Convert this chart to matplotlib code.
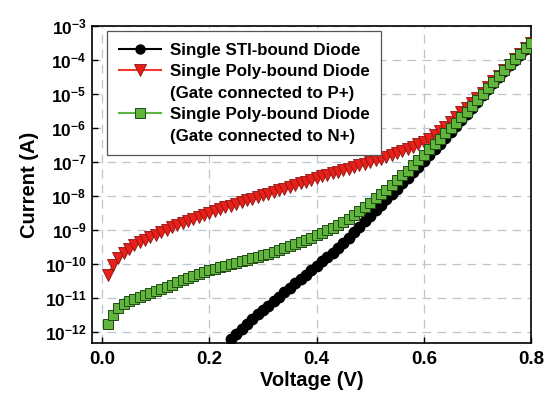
import numpy as np
import matplotlib
matplotlib.use("Agg")
import matplotlib.pyplot as plt
from matplotlib.lines import Line2D
from matplotlib.ticker import FixedLocator, FuncFormatter

plt.rcParams["font.family"] = ["Liberation Sans", "DejaVu Sans"]
plt.rcParams["font.weight"] = "bold"
plt.rcParams["mathtext.fontset"] = "custom"
plt.rcParams["mathtext.rm"] = "Liberation Sans:bold"
plt.rcParams["mathtext.bf"] = "Liberation Sans:bold"
plt.rcParams["mathtext.default"] = "bf"

# voltage sweep (V)
v_full = np.round(np.arange(1, 81) * 0.01, 2)
v_sti = np.round(np.arange(24, 81) * 0.01, 2)

# log10 of current (A)
log_sti = [
    -12.21, -12.05, -11.90, -11.76, -11.62, -11.48, -11.35, -11.22, -11.09, -10.96,
    -10.83, -10.70, -10.57, -10.44, -10.31, -10.18, -10.05, -9.92, -9.79, -9.66,
    -9.52, -9.37, -9.22, -9.06, -8.90, -8.74, -8.58, -8.42, -8.26, -8.10,
    -7.94, -7.78, -7.62, -7.46, -7.30, -7.14, -6.97, -6.80, -6.63, -6.46,
    -6.29, -6.12, -5.94, -5.76, -5.58, -5.40, -5.22, -5.04, -4.86, -4.68,
    -4.50, -4.32, -4.16, -4.00, -3.84, -3.68, -3.52,
]
log_poly_p = [
    -10.32, -10.03, -9.82, -9.67, -9.55, -9.45, -9.36, -9.28, -9.21, -9.15,
    -9.07, -8.99, -8.92, -8.85, -8.79, -8.73, -8.67, -8.61, -8.55, -8.49,
    -8.43, -8.38, -8.33, -8.28, -8.23, -8.18, -8.13, -8.08, -8.03, -7.98,
    -7.93, -7.88, -7.83, -7.78, -7.73, -7.68, -7.63, -7.58, -7.53, -7.47,
    -7.42, -7.37, -7.32, -7.28, -7.24, -7.19, -7.14, -7.10, -7.05, -7.00,
    -6.95, -6.90, -6.85, -6.80, -6.74, -6.68, -6.62, -6.55, -6.48, -6.40,
    -6.31, -6.21, -6.09, -5.96, -5.82, -5.68, -5.54, -5.40, -5.26, -5.12,
    -4.96, -4.80, -4.63, -4.47, -4.30, -4.14, -3.98, -3.82, -3.66, -3.50,
]
log_poly_n = [
    -11.76, -11.50, -11.30, -11.18, -11.09, -11.02, -10.96, -10.90, -10.84, -10.78,
    -10.72, -10.66, -10.60, -10.54, -10.48, -10.42, -10.36, -10.30, -10.24, -10.18,
    -10.14, -10.09, -10.05, -10.01, -9.96, -9.92, -9.87, -9.83, -9.78, -9.74,
    -9.69, -9.64, -9.59, -9.53, -9.47, -9.41, -9.35, -9.28, -9.22, -9.15,
    -9.08, -9.01, -8.93, -8.85, -8.76, -8.66, -8.55, -8.44, -8.32, -8.20,
    -8.07, -7.94, -7.81, -7.67, -7.53, -7.39, -7.25, -7.10, -6.95, -6.79,
    -6.63, -6.47, -6.31, -6.16, -6.01, -5.84, -5.68, -5.52, -5.35, -5.18,
    -5.00, -4.83, -4.65, -4.47, -4.29, -4.13, -3.97, -3.81, -3.65, -3.49,
]

labels = [
    "Single STI-bound Diode",
    "Single Poly-bound Diode",
    "(Gate connected to P+)",
    "Single Poly-bound Diode",
    "(Gate connected to N+)",
]
x_ticks = [0.0, 0.2, 0.4, 0.6, 0.8]
y_decades = list(range(-12, -2))

red_line, red_face, red_edge = "#f03a32", "#e8201a", "#8a1410"
green_line, green_face, green_edge = "#5cb540", "#62b53c", "#1f4a14"

fig = plt.figure(figsize=(5.46, 3.94), dpi=100)
ax = fig.add_axes([0.1685, 0.1294, 0.804, 0.8046])

ax.plot(v_sti, 10.0 ** np.array(log_sti), color="black", lw=1.2,
        marker="o", ms=7.5, mfc="black", mec="black", zorder=3)
ax.plot(v_full, 10.0 ** np.array(log_poly_p), color=red_line, lw=1.2,
        marker="v", ms=8.5, mfc=red_face, mec=red_edge, mew=0.6, zorder=4)
ax.plot(v_full, 10.0 ** np.array(log_poly_n), color=green_line, lw=1.2,
        marker="s", ms=7.3, mfc=green_face, mec=green_edge, mew=0.7, zorder=5)

ax.set_yscale("log")
ax.set_xlim(-0.019, 0.8)
ax.set_ylim(10 ** -12.32, 1e-3)

ax.xaxis.set_major_locator(FixedLocator(x_ticks))
ax.yaxis.set_major_locator(FixedLocator([10.0 ** d for d in y_decades]))
ax.yaxis.set_minor_locator(FixedLocator([]))
ax.yaxis.set_major_formatter(
    FuncFormatter(lambda val, pos: r"$\mathbf{10^{%d}}$" % round(np.log10(val))))
ax.xaxis.set_major_formatter(FuncFormatter(lambda val, pos: "%.1f" % val))

ax.tick_params(axis="both", direction="in", length=4, width=1, top=False, right=False)
ax.tick_params(axis="x", labelsize=13.5, pad=6)
ax.tick_params(axis="y", labelsize=12.5, pad=4)
for lab in ax.get_xticklabels():
    lab.set_fontweight("bold")

ax.grid(True, which="major", color="#b8c6d2", linestyle=(0, (7, 5)), linewidth=0.9)
ax.set_axisbelow(True)
for sp in ax.spines.values():
    sp.set_linewidth(1.2)

ax.set_xlabel("Voltage (V)", fontsize=14.5, fontweight="bold", labelpad=2)
ax.set_ylabel("Current (A)", fontsize=14.5, fontweight="bold", labelpad=4)

handles = [
    Line2D([], [], color="black", lw=1.5, marker="o", ms=6.5, mfc="black"),
    Line2D([], [], color=red_line, lw=1.5, marker="v", ms=8, mfc=red_face, mec=red_edge, mew=0.6),
    Line2D([], [], linestyle="none"),
    Line2D([], [], color=green_line, lw=1.5, marker="s", ms=7, mfc=green_face, mec=green_edge, mew=0.7),
    Line2D([], [], linestyle="none"),
]
leg = ax.legend(handles, labels, loc="upper left", bbox_to_anchor=(107 / 546, 1 - 31 / 394),
                bbox_transform=fig.transFigure, borderaxespad=0, fancybox=False,
                framealpha=1, edgecolor="#555555", fontsize=12.2, labelspacing=0.38,
                handlelength=2.5, handletextpad=0.5, borderpad=0.7)
leg.get_frame().set_linewidth(0.9)
for t in leg.get_texts():
    t.set_fontweight("bold")

fig.savefig("out.png", dpi=100)
